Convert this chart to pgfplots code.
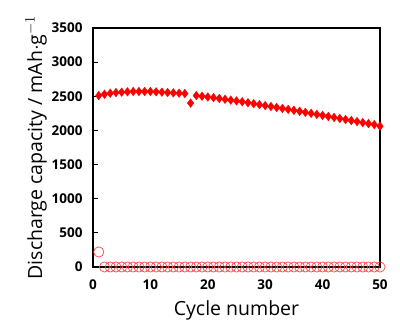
\documentclass[border=0pt]{standalone}
\usepackage{fontspec}
\setmainfont{Open Sans}
\usepackage{pgfplots}
\pgfplotsset{compat=1.18}
\begin{document}
\begin{tikzpicture}
\begin{axis}[
  scale only axis,
  width=287pt, height=239pt,
  xmin=0, xmax=50, ymin=0, ymax=3500,
  xtick={0,10,...,50}, ytick={0,500,...,3500},
  tick align=inside,
  xtick style={draw=none},
  ytick pos=left,
  major tick length=5pt,
  axis line style={line width=1.2pt},
  tick style={line width=1.2pt, black},
  /pgf/number format/assume math mode=true,
  /pgf/number format/1000 sep={},
  xticklabel style={font=\fontsize{13.5}{15}\selectfont\bfseries, yshift=-9pt},
  yticklabel style={font=\fontsize{13.5}{15}\selectfont\bfseries, xshift=-7pt},
  xlabel={Cycle number},
  ylabel={Discharge capacity / mAh$\cdot$g$^{-1}$},
  xlabel style={font=\fontsize{19.5}{24}\selectfont, yshift=-4pt},
  ylabel style={font=\fontsize{19.5}{24}\selectfont, yshift=-2pt},
  clip=false,
]
\addplot[only marks, mark=diamond*, mark size=4.3pt, color=red, fill=red] coordinates {
(1,2510)(2,2530)(3,2545)(4,2555)(5,2560)(6,2565)(7,2570)(8,2570)(9,2570)(10,2570)
(11,2565)(12,2560)(13,2555)(14,2550)(15,2545)(16,2540)(17,2400)(18,2510)(19,2500)(20,2490)
(21,2480)(22,2468)(23,2456)(24,2444)(25,2432)(26,2420)(27,2406)(28,2392)(29,2378)(30,2364)
(31,2350)(32,2336)(33,2322)(34,2308)(35,2294)(36,2280)(37,2265)(38,2250)(39,2235)(40,2220)
(41,2205)(42,2190)(43,2175)(44,2160)(45,2145)(46,2130)(47,2115)(48,2100)(49,2085)(50,2062)
};
\addplot[only marks, mark=o, mark size=5.1pt, color={rgb,255:red,255;green,70;blue,70}, mark options={fill=white, line width=0.7pt}] coordinates {
(1,220)(2,0)(3,0)(4,0)(5,0)(6,0)(7,0)(8,0)(9,0)(10,0)
(11,0)(12,0)(13,0)(14,0)(15,0)(16,0)(17,0)(18,0)(19,0)(20,0)
(21,0)(22,0)(23,0)(24,0)(25,0)(26,0)(27,0)(28,0)(29,0)(30,0)
(31,0)(32,0)(33,0)(34,0)(35,0)(36,0)(37,0)(38,0)(39,0)(40,0)
(41,0)(42,0)(43,0)(44,0)(45,0)(46,0)(47,0)(48,0)(49,0)(50,0)
};
\end{axis}
\useasboundingbox (-93pt,-69pt) rectangle (307pt,267pt);
\end{tikzpicture}
\end{document}
